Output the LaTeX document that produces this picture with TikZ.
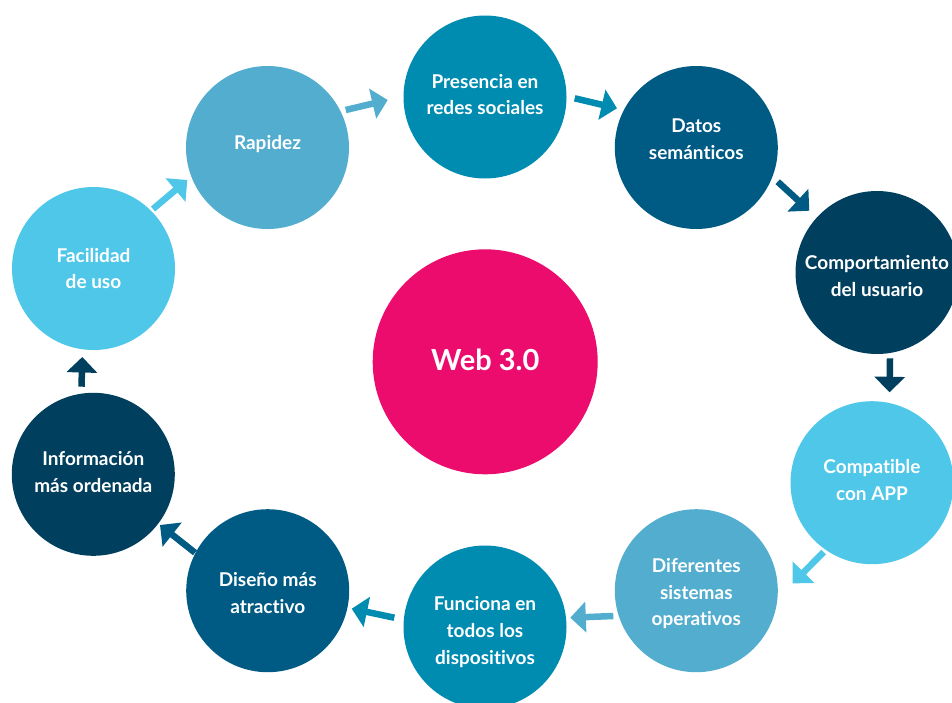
\documentclass[tikz,border=0pt]{standalone}
\usepackage{fontspec}
\setmainfont{Lato}[Ligatures=NoCommon]
\usetikzlibrary{arrows.meta}
\definecolor{cLight}{HTML}{4EC7E9}
\definecolor{cMid}{HTML}{52ADCE}
\definecolor{cTeal}{HTML}{008BB0}
\definecolor{cBlue}{HTML}{005B84}
\definecolor{cDark}{HTML}{003F5E}
\definecolor{cPink}{HTML}{EC0C6E}
\tikzset{
  bubble/.style={circle, minimum size=163pt, inner sep=0pt},
  btxt/.style={align=center, text=white, inner sep=0pt,
    font=\fontsize{19}{26.7}\selectfont\bfseries},
  core/.style={circle, minimum size=225pt, inner sep=0pt, fill=cPink},
  coretxt/.style={text=white, inner sep=0pt, font=\fontsize{29}{32}\selectfont\bfseries},
  flow/.style={line width=6.5pt, -{Triangle[length=15.5pt,width=30pt]}},
}
\begin{document}
\begin{tikzpicture}[x=1pt,y=-1pt]
\useasboundingbox (0,0) rectangle (952,702);
\fill[white] (0,0) rectangle (952,702);
\begin{scope}
\clip (0,0) rectangle (952,702);
\node[core] (web) at (485.2,361.8) {};
\node[bubble, fill=cLight] (fac) at (93.5,268.5) {};
\node[bubble, fill=cMid] (rap) at (267.5,147.5) {};
\node[bubble, fill=cTeal] (pres) at (485,97) {};
\node[bubble, fill=cBlue] (dat) at (696.3,147.5) {};
\node[bubble, fill=cDark] (comp) at (877,272.5) {};
\node[bubble, fill=cLight] (compat) at (872,482.7) {};
\node[bubble, fill=cMid] (dif) at (696.3,590.7) {};
\node[bubble, fill=cTeal] (fun) at (485,627) {};
\node[bubble, fill=cBlue] (dis) at (267.7,590.7) {};
\node[bubble, fill=cDark] (inf) at (93.3,474.3) {};
\end{scope}
\node[coretxt] (webT) at ([yshift=2pt]web.center) {Web 3.0};
\node[btxt] (facT) at (fac.center) {Facilidad\\de uso};
\node[btxt] (rapT) at ([yshift=3pt]rap.center) {Rapidez};
\node[btxt] (presT) at ([yshift=2.5pt]pres.center) {Presencia en\\redes sociales};
\node[btxt] (datT) at ([yshift=8pt]dat.center) {Datos\\semánticos};
\node[btxt] (compT) at ([yshift=-3.5pt]comp.center) {Comportamiento\\del usuario};
\node[btxt] (compatT) at ([yshift=3pt]compat.center) {Compatible\\con APP};
\node[btxt] (difT) at ([yshift=-3pt]dif.center) {Diferentes\\sistemas\\operativos};
\node[btxt] (funT) at ([yshift=-5pt]fun.center) {Funciona en\\todos los\\dispositivos};
\node[btxt] (disT) at ([yshift=-2.5pt]dis.center) {Diseño más\\atractivo};
\node[btxt] (infT) at ([yshift=2.5pt]inf.center) {Información\\más ordenada};
% arrow end points
\coordinate (a1s) at (153,209);     \coordinate (a1e) at (187.3,180);
\coordinate (a2s) at (345.7,110);   \coordinate (a2e) at (387.7,100);
\coordinate (a3s) at (574.7,98.3);  \coordinate (a3e) at (617,108.3);
\coordinate (a4s) at (777.7,181.7); \coordinate (a4e) at (809.3,210.7);
\coordinate (a5s) at (890,358.3);   \coordinate (a5e) at (889.5,392.3);
\coordinate (a6s) at (823.7,552);   \coordinate (a6e) at (792.7,583.3);
\coordinate (a7s) at (613.3,616);   \coordinate (a7e) at (570.3,617.7);
\coordinate (a8s) at (394.3,617.7); \coordinate (a8e) at (351.7,608.7);
\coordinate (a9s) at (195,552.7);   \coordinate (a9e) at (160,525);
\coordinate (a10s) at (81.5,386.7); \coordinate (a10e) at (82.3,357);
\draw[flow, cLight] (a1s) -- (a1e);
\draw[flow, cMid] (a2s) -- (a2e);
\draw[flow, cTeal] (a3s) -- (a3e);
\draw[flow, cBlue] (a4s) -- (a4e);
\draw[flow, cDark] (a5s) -- (a5e);
\draw[flow, cLight] (a6s) -- (a6e);
\draw[flow, cMid] (a7s) -- (a7e);
\draw[flow, cTeal] (a8s) -- (a8e);
\draw[flow, cBlue] (a9s) -- (a9e);
\draw[flow, cDark] (a10s) -- (a10e);
\end{tikzpicture}
\end{document}
